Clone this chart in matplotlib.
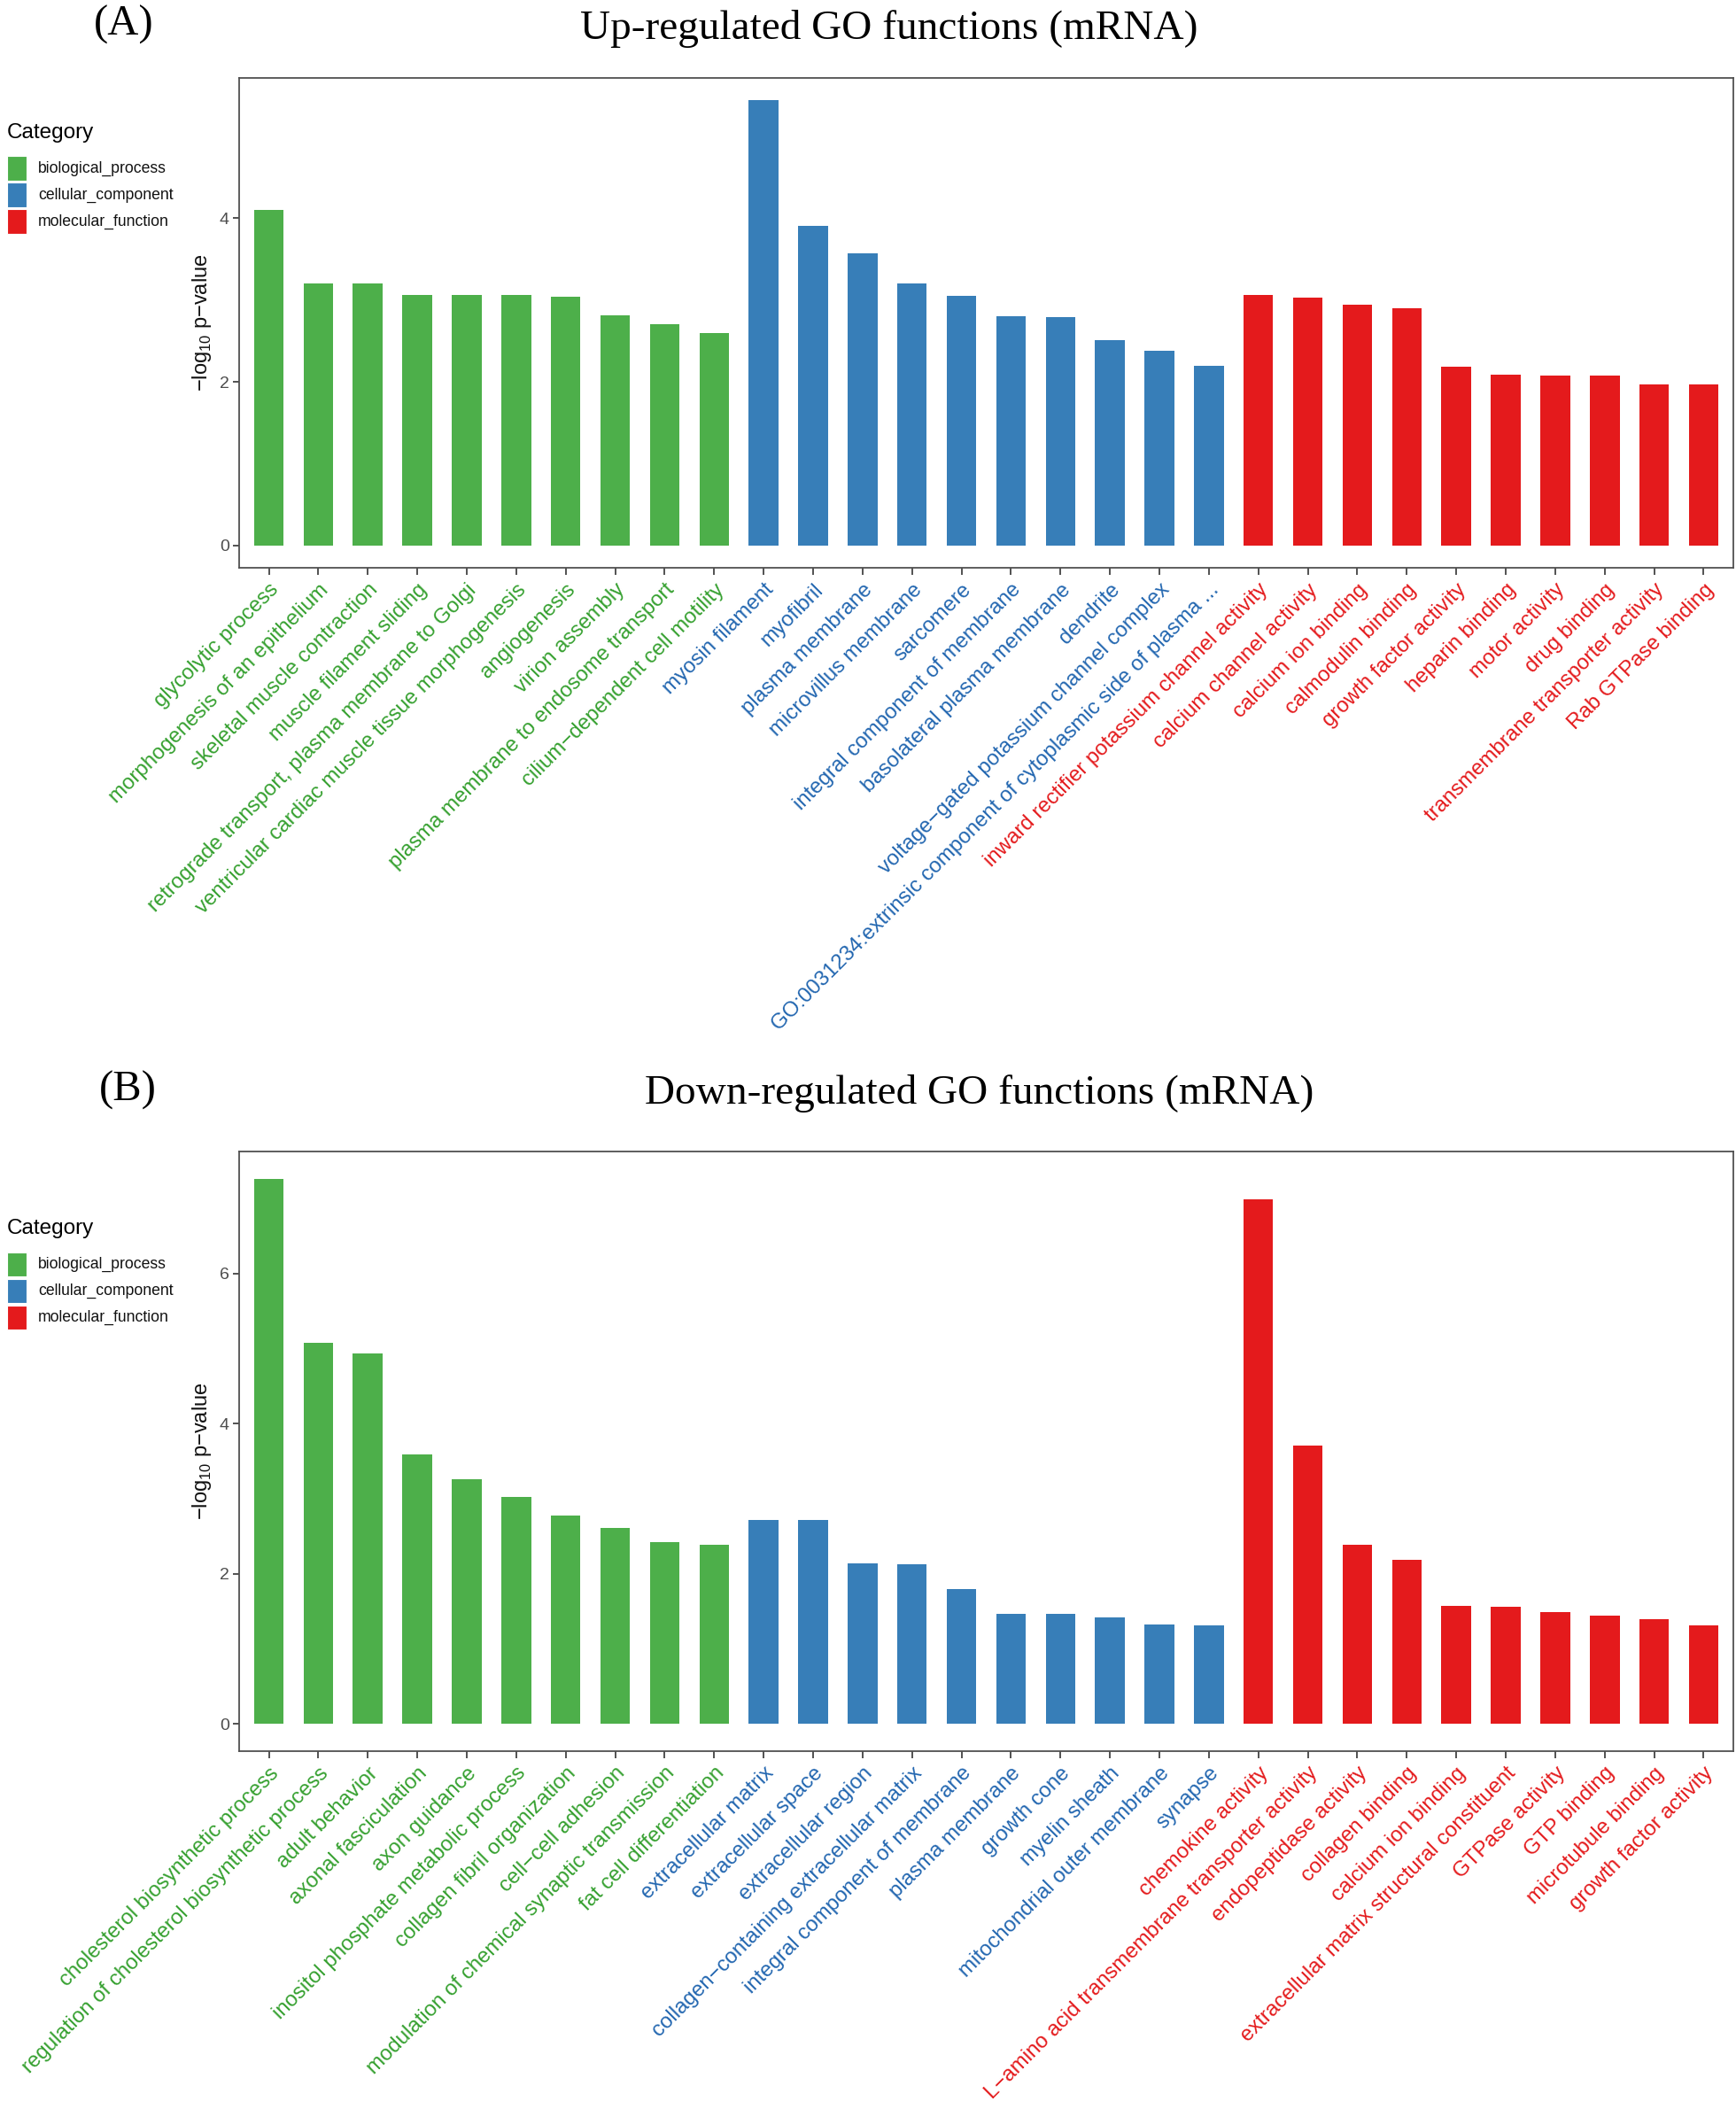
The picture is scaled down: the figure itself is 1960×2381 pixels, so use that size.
"""GO enrichment bar charts (up / down regulated mRNA)."""
import matplotlib
matplotlib.use('Agg')
import matplotlib.pyplot as plt
from matplotlib.patches import Rectangle
import numpy as np

plt.rcParams['font.family'] = 'Liberation Sans'
plt.rcParams['mathtext.fontset'] = 'custom'
plt.rcParams['mathtext.rm'] = 'Liberation Sans'
plt.rcParams['axes.unicode_minus'] = True

W, H = 1960, 2381

# ─── Colours (ColorBrewer Set1) ───
BAR_COL = {'BP': '#4DAF4A', 'CC': '#377EB8', 'MF': '#E41A1C'}
TXT_COL = {'BP': '#35A02F', 'CC': '#2266B0', 'MF': '#E41A1C'}
FRAME = '#505050'
CATEGORIES = ['biological_process', 'cellular_component', 'molecular_function']

# ─── Data: (A) up-regulated ───
up_bp_terms = ['glycolytic process', 'morphogenesis of an epithelium', 'skeletal muscle contraction',
               'muscle filament sliding', 'retrograde transport, plasma membrane to Golgi',
               'ventricular cardiac muscle tissue morphogenesis', 'angiogenesis', 'virion assembly',
               'plasma membrane to endosome transport', 'cilium\u2212dependent cell motility']
up_bp_vals = [4.10, 3.20, 3.20, 3.06, 3.06, 3.06, 3.04, 2.81, 2.70, 2.60]
up_cc_terms = ['myosin filament', 'myofibril', 'plasma membrane', 'microvillus membrane', 'sarcomere',
               'integral component of membrane', 'basolateral plasma membrane', 'dendrite',
               'voltage\u2212gated potassium channel complex',
               'GO:0031234:extrinsic component of cytoplasmic side of plasma ...']
up_cc_vals = [5.44, 3.91, 3.57, 3.20, 3.05, 2.80, 2.79, 2.51, 2.38, 2.20]
up_mf_terms = ['inward rectifier potassium channel activity', 'calcium channel activity',
               'calcium ion binding', 'calmodulin binding', 'growth factor activity', 'heparin binding',
               'motor activity', 'drug binding', 'transmembrane transporter activity', 'Rab GTPase binding']
up_mf_vals = [3.06, 3.03, 2.94, 2.90, 2.18, 2.09, 2.08, 2.08, 1.97, 1.97]

# ─── Data: (B) down-regulated ───
dn_bp_terms = ['cholesterol biosynthetic process', 'regulation of cholesterol biosynthetic process',
               'adult behavior', 'axonal fasciculation', 'axon guidance',
               'inositol phosphate metabolic process', 'collagen fibril organization',
               'cell\u2212cell adhesion', 'modulation of chemical synaptic transmission',
               'fat cell differentiation']
dn_bp_vals = [7.26, 5.07, 4.93, 3.59, 3.26, 3.02, 2.78, 2.61, 2.42, 2.38]
dn_cc_terms = ['extracellular matrix', 'extracellular space', 'extracellular region',
               'collagen\u2212containing extracellular matrix', 'integral component of membrane',
               'plasma membrane', 'growth cone', 'myelin sheath', 'mitochondrial outer membrane', 'synapse']
dn_cc_vals = [2.72, 2.71, 2.14, 2.13, 1.79, 1.47, 1.46, 1.42, 1.32, 1.31]
dn_mf_terms = ['chemokine activity', 'L\u2212amino acid transmembrane transporter activity',
               'endopeptidase activity', 'collagen binding', 'calcium ion binding',
               'extracellular matrix structural constituent', 'GTPase activity', 'GTP binding',
               'microtubule binding', 'growth factor activity']
dn_mf_vals = [6.99, 3.71, 2.39, 2.18, 1.57, 1.56, 1.49, 1.44, 1.39, 1.31]


def fx(x):
    return x / W


def fy(y):
    return 1 - y / H


def draw_panel(box, groups, letter, title, letter_xy, title_xy, legend_y):
    # box = (left, top, right, bottom) in pixels
    l, t, r, b = box
    ax = fig.add_axes([fx(l), fy(b), fx(r) - fx(l), (b - t) / H])
    terms, vals, cats = [], [], []
    for key, tl, vl in groups:
        terms += tl
        vals += vl
        cats += [key] * len(tl)
    x = np.arange(len(terms))
    ax.bar(x, vals, width=0.6, color=[BAR_COL[c] for c in cats], edgecolor='none', zorder=3)
    vmax = max(vals)
    ax.set_ylim(-0.05 * vmax, 1.05 * vmax)
    ax.set_xlim(-0.6, len(terms) - 0.4)
    ax.set_yticks(np.arange(0, vmax, 2))
    ax.set_xticks(x)
    ax.set_xticklabels(terms, rotation=45, ha='right', va='top', rotation_mode='anchor', fontsize=17.3)
    for lab, c in zip(ax.get_xticklabels(), cats):
        lab.set_color(TXT_COL[c])
    ax.tick_params(axis='x', length=6, width=1.2, color='#333333', pad=4)
    ax.tick_params(axis='y', length=5, width=1.2, color='#333333', labelsize=14,
                   labelcolor='#4D4D4D', pad=3)
    for s in ax.spines.values():
        s.set_color(FRAME)
        s.set_linewidth(1.3)
    ax.set_ylabel('\u2212log$_{\\mathregular{10}}$ p\u2212value', fontsize=17, color='#111111', va='center')
    ax.yaxis.set_label_coords((228 - l) / (r - l), 0.5)

    fig.text(fx(letter_xy[0]), fy(letter_xy[1]), letter, family='Liberation Serif',
             fontsize=35, ha='center', va='center')
    fig.text(fx(title_xy[0]), fy(title_xy[1]), title, family='Liberation Serif',
             fontsize=34, ha='center', va='center')

    # legend
    fig.text(fx(8), fy(legend_y), 'Category', fontsize=17.5, ha='left', va='center')
    for i, (name, key) in enumerate(zip(CATEGORIES, ['BP', 'CC', 'MF'])):
        cy = legend_y + 40 + 30 * i
        fig.add_artist(Rectangle((fx(8), fy(cy + 13.5)), 22 / W, 27 / H,
                                 transform=fig.transFigure, facecolor=BAR_COL[key],
                                 edgecolor='white', linewidth=0.8))
        fig.text(fx(43), fy(cy), name, fontsize=12.7, ha='left', va='center', color='#111111')
    return ax


fig = plt.figure(figsize=(W / 100, H / 100), dpi=100)
fig.set_facecolor('white')

draw_panel((270, 88, 1957, 641),
           [('BP', up_bp_terms, up_bp_vals), ('CC', up_cc_terms, up_cc_vals),
            ('MF', up_mf_terms, up_mf_vals)],
           '(A)', 'Up-regulated GO functions (mRNA)', (140, 28), (1004, 32), 150)

draw_panel((270, 1300, 1957, 1977),
           [('BP', dn_bp_terms, dn_bp_vals), ('CC', dn_cc_terms, dn_cc_vals),
            ('MF', dn_mf_terms, dn_mf_vals)],
           '(B)', 'Down-regulated GO functions (mRNA)', (144, 1231), (1106, 1235), 1387)

fig.savefig('out.png', dpi=100, facecolor='white')
plt.close()
print('[OK] out.png')
